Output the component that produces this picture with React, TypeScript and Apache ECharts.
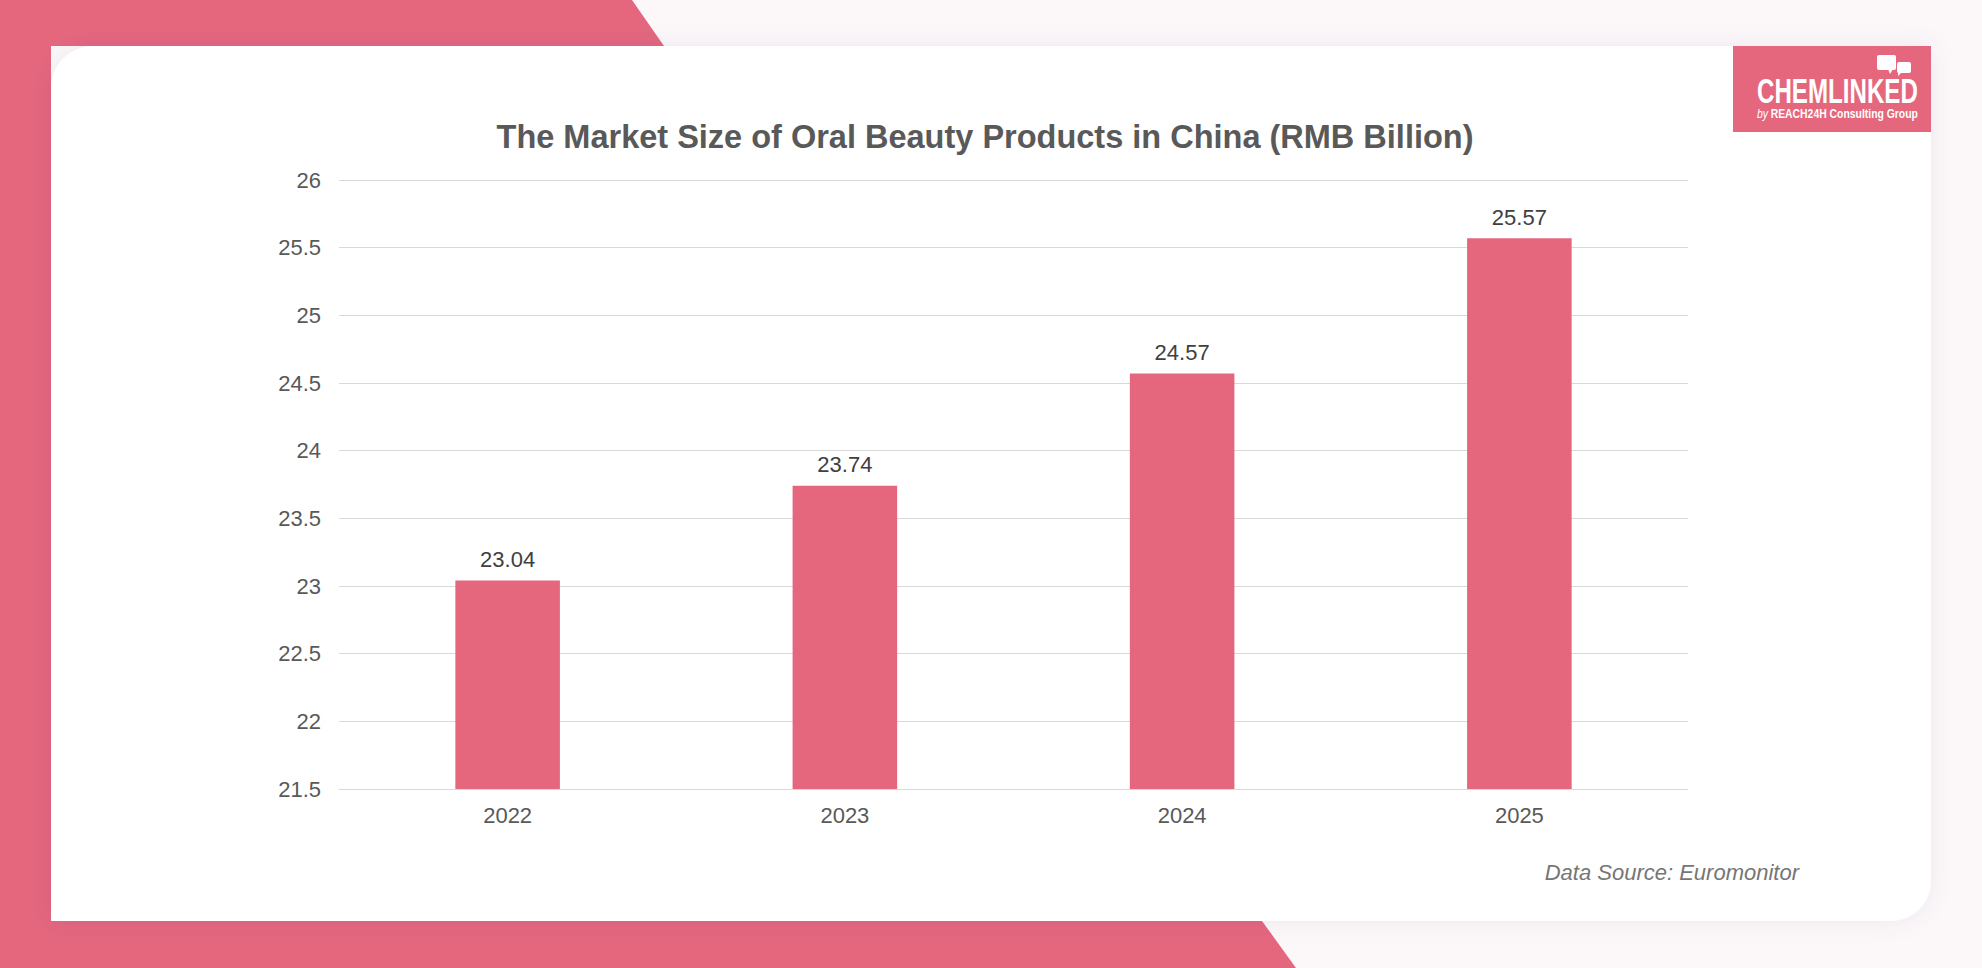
import React, { useEffect, useRef } from "react";
import * as echarts from "echarts";

const categories = ["2022", "2023", "2024", "2025"];
const marketSize = [23.04, 23.74, 24.57, 25.57];
const yMin = 21.5;
const yMax = 26;
const yStep = 0.5;
const titleText = "The Market Size of Oral Beauty Products in China (RMB Billion)";
const sourceText = "Data Source: Euromonitor";

const PINK = "#E4677E";

export default function App() {
  const ref = useRef<HTMLDivElement>(null);
  useEffect(() => {
    if (!ref.current) return;
    const chart = echarts.init(ref.current, undefined, { renderer: "svg" });
    const font = "Liberation Sans, Arial, sans-serif";
    chart.setOption({
      animation: false,
      backgroundColor: "#FCF8F9",
      textStyle: { fontFamily: font },
      graphic: [
        {
          type: "polygon",
          z: -20,
          shape: { points: [[0, 0], [632, 0], [664, 46], [0, 46]] },
          style: { fill: PINK },
        },
        {
          type: "rect",
          z: -20,
          shape: { x: 0, y: 0, width: 51, height: 968 },
          style: { fill: PINK },
        },
        {
          type: "polygon",
          z: -20,
          shape: { points: [[0, 921], [1262, 921], [1296, 968], [0, 968]] },
          style: { fill: PINK },
        },
        {
          type: "rect",
          z: -15,
          shape: { x: 51, y: 46, width: 1880, height: 875, r: [42, 0, 40, 0] },
          style: { fill: "#ffffff", shadowBlur: 24, shadowColor: "rgba(60,60,110,0.07)" },
        },
        {
          type: "text",
          z: 5,
          x: 985,
          y: 137,
          style: {
            text: titleText,
            fill: "#595959",
            font: "bold 32.5px Liberation Sans, Arial, sans-serif",
            align: "center",
            verticalAlign: "middle",
          },
        },
        {
          type: "text",
          z: 5,
          x: 1799,
          y: 872,
          style: {
            text: sourceText,
            fill: "#767676",
            font: "italic 22px Liberation Sans, Arial, sans-serif",
            align: "right",
            verticalAlign: "middle",
          },
        },
        {
          type: "group",
          z: 10,
          children: [
            {
              type: "rect",
              z: 10,
              shape: { x: 1733, y: 46, width: 198, height: 86 },
              style: { fill: PINK },
            },
            {
              type: "rect",
              z: 11,
              shape: { x: 1877, y: 55, width: 19, height: 15, r: 2 },
              style: { fill: "#ffffff" },
            },
            {
              type: "polygon",
              z: 11,
              shape: { points: [[1888, 69], [1893, 69], [1890, 74]] },
              style: { fill: "#ffffff" },
            },
            {
              type: "rect",
              z: 11,
              shape: { x: 1897, y: 62, width: 14, height: 11, r: 2 },
              style: { fill: "#ffffff" },
            },
            {
              type: "polygon",
              z: 11,
              shape: { points: [[1898, 72], [1902, 72], [1898, 76]] },
              style: { fill: "#ffffff" },
            },
            {
              type: "text",
              z: 11,
              x: 1757,
              y: 91,
              scaleX: 0.69,
              style: {
                text: "CHEMLINKED",
                fill: "#ffffff",
                font: "bold 35px Liberation Sans Narrow, Liberation Sans, Arial, sans-serif",
                align: "left",
                verticalAlign: "middle",
              },
            },
            {
              type: "text",
              z: 11,
              x: 1757,
              y: 113,
              scaleX: 0.8,
              style: {
                text: "{a|by} {b|REACH24H Consulting Group}",
                fill: "#ffffff",
                align: "left",
                verticalAlign: "middle",
                rich: {
                  a: {
                    fill: "#ffffff",
                    font: "italic 13px Liberation Sans Narrow, Liberation Sans, Arial, sans-serif",
                  },
                  b: {
                    fill: "#ffffff",
                    font: "bold 13px Liberation Sans Narrow, Liberation Sans, Arial, sans-serif",
                  },
                },
              },
            },
          ],
        },
      ],
      grid: { left: 339, right: 294, top: 180, bottom: 179, containLabel: false },
      xAxis: {
        type: "category",
        data: categories,
        axisLine: { show: true, lineStyle: { color: "#D9D9D9", width: 1 } },
        axisTick: { show: false },
        axisLabel: { color: "#595959", fontSize: 22, margin: 15, fontFamily: font },
      },
      yAxis: {
        type: "value",
        min: yMin,
        max: yMax,
        interval: yStep,
        axisLine: { show: false },
        axisTick: { show: false },
        axisLabel: { color: "#595959", fontSize: 22, margin: 18, fontFamily: font },
        splitLine: { lineStyle: { color: "#D9D9D9", width: 1 } },
      },
      series: [
        {
          type: "bar",
          data: marketSize,
          barWidth: "31%",
          itemStyle: { color: PINK },
          label: {
            show: true,
            position: "top",
            distance: 10,
            color: "#404040",
            fontSize: 22,
            fontFamily: font,
            formatter: (p: any) => Number(p.value).toFixed(2),
          },
        },
      ],
    });
    return () => chart.dispose();
  }, []);
  return (
    <div
      ref={ref}
      style={{ position: "fixed", left: 0, top: 0, width: 1982, height: 968 }}
    />
  );
}
